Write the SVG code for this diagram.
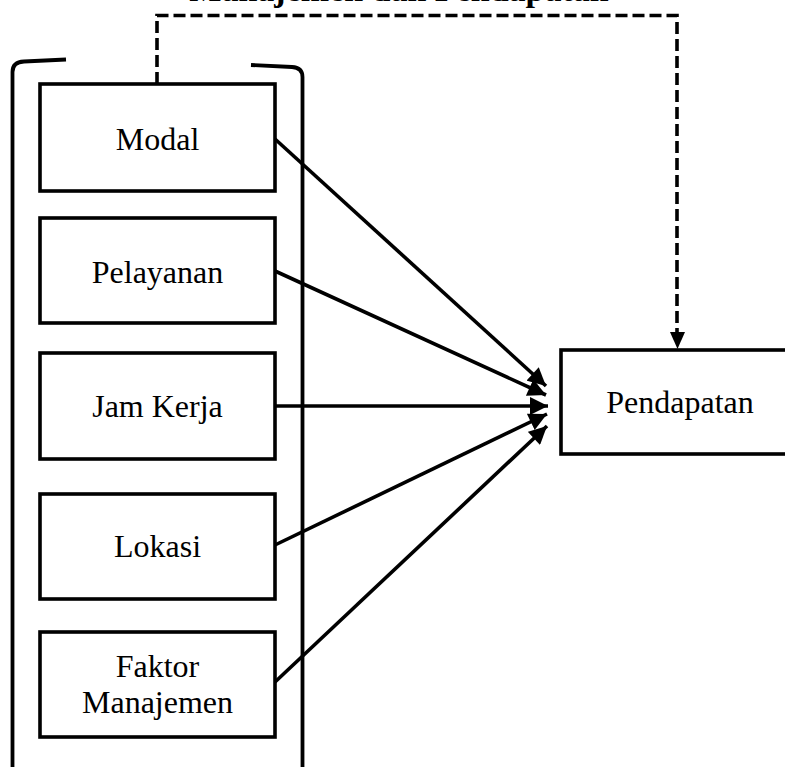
<svg xmlns="http://www.w3.org/2000/svg" width="785" height="767" viewBox="0 0 785 767">
<style>
.box{fill:#fff;stroke:#000;stroke-width:3.6}
.lbl{font-family:"Liberation Serif","Times New Roman",serif;font-size:32px;fill:#000;text-anchor:middle}
.ttl{font-family:"Liberation Serif","Times New Roman",serif;font-size:34px;font-weight:bold;fill:#000;text-anchor:middle}
.br{fill:none;stroke:#000;stroke-width:3.8}
.arr{fill:none;stroke:#000;stroke-width:3.6}
.dash{fill:none;stroke:#000;stroke-width:3.6;stroke-dasharray:12 5}
</style>
<defs>
<marker id="ah" viewBox="0 0 10 10" refX="10" refY="5" markerWidth="5.2" markerHeight="5" markerUnits="strokeWidth" orient="auto">
<path d="M0,0 L10,5 L0,10 Z" fill="#000"/>
</marker>
</defs>
<rect width="785" height="767" fill="#fff"/>
<text class="ttl" x="399" y="1">Manajemen dan Pendapatan</text>
<g id="bracket">
<path class="br" d="M12.5,767 L12.5,72 Q12.5,62 24,61.5 L66,59.5"/>
<path class="br" d="M251,65 L292,67 Q302.5,67.5 302.5,77 L302.5,767"/>
</g>
<g id="connectors">
<path class="dash" d="M157,84 L157,15.5 L677,15.5 L677,333"/>
<path d="M670,332 L685,332 L677.5,349 Z" fill="#000"/>
<line class="arr" x1="275" y1="139" x2="546" y2="386" marker-end="url(#ah)"/>
<line class="arr" x1="275" y1="271" x2="546" y2="395" marker-end="url(#ah)"/>
<line class="arr" x1="275" y1="406" x2="548" y2="406" marker-end="url(#ah)"/>
<line class="arr" x1="275" y1="545" x2="547" y2="414" marker-end="url(#ah)"/>
<line class="arr" x1="275" y1="682" x2="547" y2="426" marker-end="url(#ah)"/>
</g>
<g id="modal">
<rect class="box" x="40" y="84" width="235" height="107"/>
<text class="lbl" x="157.5" y="150">Modal</text>
</g>
<g id="pelayanan">
<rect class="box" x="40" y="218" width="235" height="105"/>
<text class="lbl" x="157.5" y="283">Pelayanan</text>
</g>
<g id="jamkerja">
<rect class="box" x="40" y="353" width="235" height="106"/>
<text class="lbl" x="157.5" y="417">Jam Kerja</text>
</g>
<g id="lokasi">
<rect class="box" x="40" y="494" width="235" height="105"/>
<text class="lbl" x="157.5" y="557">Lokasi</text>
</g>
<g id="faktor">
<rect class="box" x="40" y="632" width="235" height="105"/>
<text class="lbl" x="157.5" y="677">Faktor</text>
<text class="lbl" x="157.5" y="713">Manajemen</text>
</g>
<g id="pendapatan">
<rect class="box" x="561" y="350" width="240" height="104"/>
<text class="lbl" x="680" y="413">Pendapatan</text>
</g>
</svg>
